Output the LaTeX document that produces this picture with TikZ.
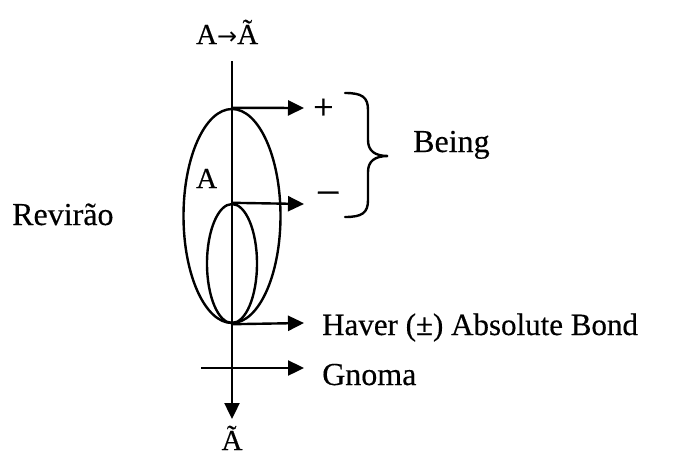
\documentclass[tikz,border=0pt]{standalone}
\usepackage{fontspec}
\setmainfont{Liberation Serif}[UprightFeatures={FakeBold=0.4}]
\newfontfamily\arrfont{DejaVu Sans}
\usetikzlibrary{arrows.meta,shapes.geometric}
\begin{document}
\begin{tikzpicture}[x=1pt,y=-1pt,
  line/.style={line width=2.4pt},
  arr/.style={line width=2.4pt,-{Triangle[length=16pt,width=15pt]}},
  oval/.style={ellipse,draw,line width=2.4pt,inner sep=0pt},
  big/.style={font=\fontsize{32}{36}\selectfont,inner sep=0pt,anchor=base west},
  small/.style={font=\fontsize{29}{32}\selectfont,inner sep=0pt,anchor=base west}]
\useasboundingbox (0,0) rectangle (675,456);
% ovals
\node[oval,minimum width=97pt,minimum height=214pt] (bigov) at (232,216) {};
\node[oval,minimum width=50pt,minimum height=119pt] (smallov) at (232,263.5) {};
% axis
\coordinate (axtop) at (232,61);
\coordinate (axbot) at (232,419);
\draw[arr] (axtop) -- (axbot);
% arrow ends
\coordinate (e1) at (304,108);
\coordinate (e2) at (304,204);
\coordinate (e3) at (304,323);
\coordinate (g0) at (201,368);
\coordinate (e4) at (304,368);
\draw[arr] (bigov.north) -- (e1);
\draw[arr] (smallov.north) -- (e2);
\draw[arr] (smallov.south) -- (e3);
\draw[arr] (g0) -- (e4);
% labels
\node[small] (toplbl) at (196,44) {A{\arrfont\fontsize{24}{28}\selectfont →}Ã};
\node[small] (botlbl) at (232,450) [anchor=base] {Ã};
\node[small] (alabel) at (196,188) {A};
\node[big] (rev) at (12,225) {Revirão};
\node[font=\fontsize{36}{40}\selectfont,inner sep=0pt,anchor=base west] (plus) at (313,119) {+};
\node[font=\fontsize{40}{44}\selectfont,inner sep=0pt,anchor=base west] (minus) at (318,202) {–};
\node[big] (being) at (413,152) {Being};
\node[font=\fontsize{31}{36}\selectfont,inner sep=0pt,anchor=base west] (haver) at (322,335) {Haver (±) Absolute Bond};
\node[big] (gnoma) at (322,385) {Gnoma};
% brace
\draw[line,line cap=round] (345,93) .. controls (362,93) and (368,97) .. (368,110)
  -- (368,140) .. controls (368,151) and (375,156) .. (388,156)
  .. controls (375,156) and (368,161) .. (368,172)
  -- (368,200) .. controls (368,213) and (362,217) .. (345,217);
\end{tikzpicture}
\end{document}
